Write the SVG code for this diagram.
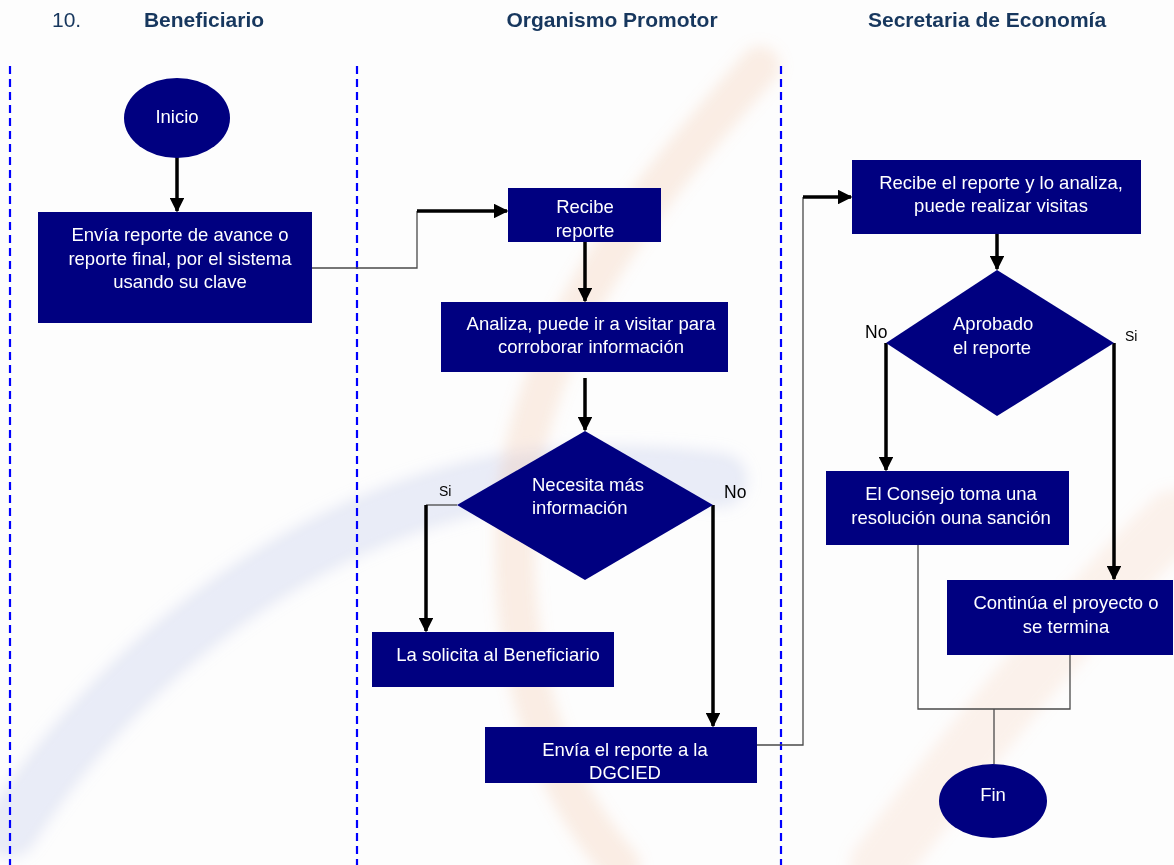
<svg xmlns="http://www.w3.org/2000/svg" width="1174" height="865" viewBox="0 0 1174 865">
  <defs>
    <style>
      .lane { stroke: #0000ff; stroke-width: 2.2; stroke-dasharray: 8 5; fill: none; }
      .head { font-family: "Liberation Sans", Arial, sans-serif; font-size: 21px; font-weight: bold; fill: #17375e; }
      .num { font-family: "Liberation Sans", Arial, sans-serif; font-size: 21px; fill: #17375e; }
      .box { fill: #000080; }
      .t { font-family: "Liberation Sans", Arial, sans-serif; font-size: 18.5px; fill: #ffffff; text-anchor: middle; }
      .tl { font-family: "Liberation Sans", Arial, sans-serif; font-size: 18.5px; fill: #ffffff; }
      .lbl { font-family: "Liberation Sans", Arial, sans-serif; font-size: 17.5px; fill: #000000; }
      .lbls { font-family: "Liberation Sans", Arial, sans-serif; font-size: 14px; fill: #000000; }
      .thin { stroke: #4a4a4a; stroke-width: 1.3; fill: none; }
      .thick { stroke: #000000; stroke-width: 3.5; fill: none; }
      .wm { fill: none; stroke-linecap: round; }
    </style>
    <marker id="ah" viewBox="0 0 10 10" refX="9" refY="5" markerWidth="4.2" markerHeight="4.2" orient="auto" markerUnits="strokeWidth">
      <path d="M0,0 L10,5 L0,10 z" fill="#000000"/>
    </marker>
    <filter id="soft" x="-20%" y="-20%" width="140%" height="140%">
      <feGaussianBlur stdDeviation="7"/>
    </filter>
  </defs>

  <rect width="1174" height="865" fill="#fdfdfd"/>

  <!-- faint background logo swooshes -->
  <g id="watermark" filter="url(#soft)">
    <path class="wm" d="M10,830 C120,660 300,520 500,482 C580,470 640,470 720,480" stroke="#c4cbea" stroke-width="55" opacity="0.35"/>
    <path class="wm" d="M760,66 C660,180 525,330 515,520 C510,680 555,790 620,865" stroke="#f0b48f" stroke-width="40" opacity="0.22"/>
    <path class="wm" d="M880,865 C960,760 1060,630 1174,520" stroke="#f3c4a4" stroke-width="60" opacity="0.2"/>
  </g>

  <!-- lane headers -->
  <g id="headers">
    <text class="num" x="52" y="27">10.</text>
    <text class="head" x="204" y="27" text-anchor="middle">Beneficiario</text>
    <text class="head" x="612" y="27" text-anchor="middle">Organismo Promotor</text>
    <text class="head" x="868" y="27">Secretaria de Economía</text>
  </g>

  <!-- lane separators -->
  <g id="lanes">
    <line class="lane" x1="10" y1="66" x2="10" y2="865"/>
    <line class="lane" x1="357" y1="66" x2="357" y2="865"/>
    <line class="lane" x1="781" y1="66" x2="781" y2="865"/>
  </g>

  <!-- connectors -->
  <g id="connectors">
    <line class="thick" x1="177" y1="157" x2="177" y2="211" marker-end="url(#ah)"/>
    <polyline class="thin" points="312,268 417,268 417,211"/>
    <line class="thick" x1="417" y1="211" x2="507" y2="211" marker-end="url(#ah)"/>
    <line class="thick" x1="585" y1="242" x2="585" y2="301" marker-end="url(#ah)"/>
    <line class="thick" x1="585" y1="378" x2="585" y2="430" marker-end="url(#ah)"/>
    <line class="thin" x1="457" y1="505" x2="426" y2="505"/>
    <line class="thick" x1="426" y1="505" x2="426" y2="631" marker-end="url(#ah)"/>
    <line class="thick" x1="713" y1="505" x2="713" y2="726" marker-end="url(#ah)"/>
    <polyline class="thin" points="757,745 803,745 803,197"/>
    <line class="thick" x1="803" y1="197" x2="851" y2="197" marker-end="url(#ah)"/>
    <line class="thick" x1="997" y1="234" x2="997" y2="269" marker-end="url(#ah)"/>
    <line class="thick" x1="886" y1="343" x2="886" y2="470" marker-end="url(#ah)"/>
    <line class="thick" x1="1114" y1="343" x2="1114" y2="579" marker-end="url(#ah)"/>
    <polyline class="thin" points="918,545 918,709 1070,709 1070,655"/>
    <line class="thin" x1="994" y1="709" x2="994" y2="764"/>
  </g>

  <!-- labels on decision branches -->
  <g id="branch-labels">
    <text class="lbls" x="439" y="496">Si</text>
    <text class="lbl" x="724" y="498">No</text>
    <text class="lbl" x="865" y="338">No</text>
    <text class="lbls" x="1125" y="341">Si</text>
  </g>

  <g id="inicio">
    <ellipse class="box" cx="177" cy="118" rx="53" ry="40"/>
    <text class="t" x="177" y="123">Inicio</text>
  </g>

  <g id="envia-reporte">
    <rect class="box" x="38" y="212" width="274" height="111"/>
    <text class="t" x="180" y="241">Envía reporte de avance o</text>
    <text class="t" x="180" y="265">reporte final, por el sistema</text>
    <text class="t" x="180" y="288">usando su clave</text>
  </g>

  <g id="recibe-reporte">
    <rect class="box" x="508" y="188" width="153" height="54"/>
    <text class="t" x="585" y="213">Recibe</text>
    <text class="t" x="585" y="237">reporte</text>
  </g>

  <g id="analiza">
    <rect class="box" x="441" y="302" width="287" height="70"/>
    <text class="t" x="591" y="330">Analiza, puede ir a visitar para</text>
    <text class="t" x="591" y="353">corroborar información</text>
  </g>

  <g id="necesita-info">
    <polygon class="box" points="585,431 713,505 585,580 457,505"/>
    <text class="tl" x="532" y="491">Necesita más</text>
    <text class="tl" x="532" y="514">información</text>
  </g>

  <g id="solicita">
    <rect class="box" x="372" y="632" width="242" height="55"/>
    <text class="t" x="498" y="661">La solicita al Beneficiario</text>
  </g>

  <g id="envia-dgcied">
    <rect class="box" x="485" y="727" width="272" height="56"/>
    <text class="t" x="625" y="756">Envía el reporte a la</text>
    <text class="t" x="625" y="779">DGCIED</text>
  </g>

  <g id="recibe-analiza">
    <rect class="box" x="852" y="160" width="289" height="74"/>
    <text class="t" x="1001" y="189">Recibe el reporte y lo analiza,</text>
    <text class="t" x="1001" y="212">puede realizar visitas</text>
  </g>

  <g id="aprobado">
    <polygon class="box" points="997,270 1114,343 997,416 886,343"/>
    <text class="tl" x="953" y="330">Aprobado</text>
    <text class="tl" x="953" y="354">el reporte</text>
  </g>

  <g id="consejo">
    <rect class="box" x="826" y="471" width="243" height="74"/>
    <text class="t" x="951" y="500">El Consejo toma una</text>
    <text class="t" x="951" y="524">resolución ouna sanción</text>
  </g>

  <g id="continua">
    <rect class="box" x="947" y="580" width="226" height="75"/>
    <text class="t" x="1066" y="609">Continúa el proyecto o</text>
    <text class="t" x="1066" y="633">se termina</text>
  </g>

  <g id="fin">
    <ellipse class="box" cx="993" cy="801" rx="54" ry="37"/>
    <text class="t" x="993" y="801">Fin</text>
  </g>
</svg>
